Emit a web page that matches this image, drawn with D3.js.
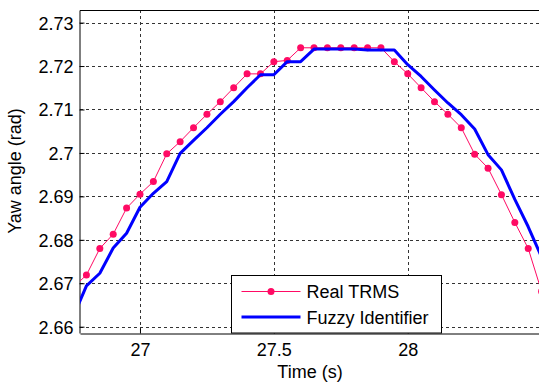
<!DOCTYPE html>
<html>
<head>
<meta charset="utf-8">
<script src="https://cdn.jsdelivr.net/npm/d3@7"></script>
<style>
  body { margin: 0; background: #fff; }
  text { font-family: "Liberation Sans", Arial, sans-serif; }
</style>
</head>
<body>
<script>
// temps (s), un échantillon toutes les 0.05 s
const time = [26.75, 26.8, 26.85, 26.9, 26.95, 27.0, 27.05, 27.1, 27.15, 27.2, 27.25,
  27.3, 27.35, 27.4, 27.45, 27.5, 27.55, 27.6, 27.65, 27.7, 27.75, 27.8, 27.85,
  27.9, 27.95, 28.0, 28.05, 28.1, 28.15, 28.2, 28.25, 28.3, 28.35, 28.4, 28.45, 28.5];

// angle de lacet mesuré
const realTRMS = [2.6690, 2.6719, 2.6780, 2.6813, 2.6873, 2.6905, 2.6934, 2.6998, 2.7026,
  2.7058, 2.7089, 2.7118, 2.7150, 2.7182, 2.7182, 2.7210, 2.7213, 2.7242, 2.7242,
  2.7242, 2.7242, 2.7242, 2.7242, 2.7242, 2.7210, 2.7182, 2.7150, 2.7118, 2.7089,
  2.7058, 2.6997, 2.6965, 2.6904, 2.6840, 2.6780, 2.6681];

// sortie de l'identificateur flou
const fuzzyId = [2.6622, 2.6694, 2.6723, 2.6781, 2.6815, 2.6875, 2.6907, 2.6934, 2.6999,
  2.7029, 2.7058, 2.7089, 2.7118, 2.7150, 2.7180, 2.7180, 2.7210, 2.7210, 2.7239,
  2.7239, 2.7239, 2.7239, 2.7237, 2.7237, 2.7237, 2.7203, 2.7176, 2.7145, 2.7115,
  2.7088, 2.7055, 2.6996, 2.6961, 2.6893, 2.6830, 2.6760];

const xTicks = [27, 27.5, 28];
const yTicks = [2.66, 2.67, 2.68, 2.69, 2.70, 2.71, 2.72, 2.73];
const seriesNames = ["Real TRMS", "Fuzzy Identifier"];

const W = 539, H = 383;
const mLeft = 80, mRight = 540, mTop = 10, mBottom = 333;
const red = "#ff0a64", blue = "#0000ff";

const svg = d3.select("body").append("svg")
  .attr("width", W).attr("height", H);

const x = d3.scaleLinear().domain([26.776, 28.494]).range([mLeft, mRight]);
const y = d3.scaleLinear().domain([2.65855, 2.7329]).range([mBottom, mTop]);

svg.append("clipPath").attr("id", "clip")
  .append("rect").attr("x", mLeft).attr("y", mTop)
  .attr("width", mRight - mLeft).attr("height", mBottom - mTop);

// grille pointillée
const grid = svg.append("g")
  .attr("stroke", "#333").attr("stroke-width", 1).attr("stroke-dasharray", "3,3");
grid.selectAll("line.gx").data(xTicks).enter().append("line")
  .attr("x1", d => Math.round(x(d)) + 0.5).attr("x2", d => Math.round(x(d)) + 0.5)
  .attr("y1", mTop).attr("y2", mBottom);
grid.selectAll("line.gy").data(yTicks).enter().append("line")
  .attr("y1", d => Math.round(y(d)) + 0.5).attr("y2", d => Math.round(y(d)) + 0.5)
  .attr("x1", mLeft).attr("x2", mRight);

// axes
const fmt = d => String(+d.toFixed(2));
const xAxis = svg.append("g")
  .attr("transform", `translate(0,${mBottom + 0.5})`)
  .call(d3.axisBottom(x).tickValues(xTicks).tickFormat(fmt)
    .tickSizeInner(-5).tickSizeOuter(0).tickPadding(10));
const yAxis = svg.append("g")
  .attr("transform", `translate(${mLeft - 0.5},0)`)
  .call(d3.axisLeft(y).tickValues(yTicks).tickFormat(fmt)
    .tickSizeInner(-5).tickSizeOuter(0).tickPadding(6));

[xAxis, yAxis].forEach(a => {
  a.selectAll("text").attr("font-size", 18).attr("fill", "#000")
    .attr("font-family", "Liberation Sans, Arial, sans-serif");
  a.selectAll("line").attr("stroke", "#000");
  a.select(".domain").attr("stroke", "#000");
});
yAxis.selectAll("text").attr("dy", "0.36em");

// bord supérieur
svg.append("line")
  .attr("x1", mLeft).attr("x2", mRight)
  .attr("y1", mTop + 0.5).attr("y2", mTop + 0.5)
  .attr("stroke", "#000");

// courbes
const plot = svg.append("g").attr("clip-path", "url(#clip)");
const line = d3.line().x((d, i) => x(time[i])).y(d => y(d));

plot.append("path")
  .datum(realTRMS)
  .attr("fill", "none").attr("stroke", red).attr("stroke-width", 1)
  .attr("d", line);

plot.selectAll("circle").data(realTRMS).enter().append("circle")
  .attr("cx", (d, i) => x(time[i])).attr("cy", d => y(d))
  .attr("r", 3.5).attr("fill", red);

plot.append("path")
  .datum(fuzzyId)
  .attr("fill", "none").attr("stroke", blue).attr("stroke-width", 3)
  .attr("stroke-linejoin", "round")
  .attr("d", line);

// titres des axes
svg.append("text")
  .attr("x", (mLeft + mRight) / 2).attr("y", 378)
  .attr("text-anchor", "middle").attr("font-size", 18)
  .text("Time (s)");

svg.append("text")
  .attr("transform", "translate(21,171) rotate(-90)")
  .attr("text-anchor", "middle").attr("font-size", 18)
  .text("Yaw angle (rad)");

// légende
const lg = svg.append("g").attr("transform", "translate(231.5,275.5)");
lg.append("rect").attr("width", 210).attr("height", 57.5)
  .attr("fill", "#fff").attr("stroke", "#000");

const items = lg.selectAll("g.item").data(seriesNames).enter().append("g")
  .attr("transform", (d, i) => `translate(0,${16 + i * 25.5})`);
items.append("line")
  .attr("x1", 10).attr("x2", 69)
  .attr("stroke", (d, i) => i === 0 ? red : blue)
  .attr("stroke-width", (d, i) => i === 0 ? 1 : 3);
items.filter((d, i) => i === 0).append("circle")
  .attr("cx", 39.5).attr("r", 3.5).attr("fill", red);
items.append("text")
  .attr("x", 75).attr("y", 6.5).attr("font-size", 18)
  .text(d => d);
</script>
</body>
</html>
